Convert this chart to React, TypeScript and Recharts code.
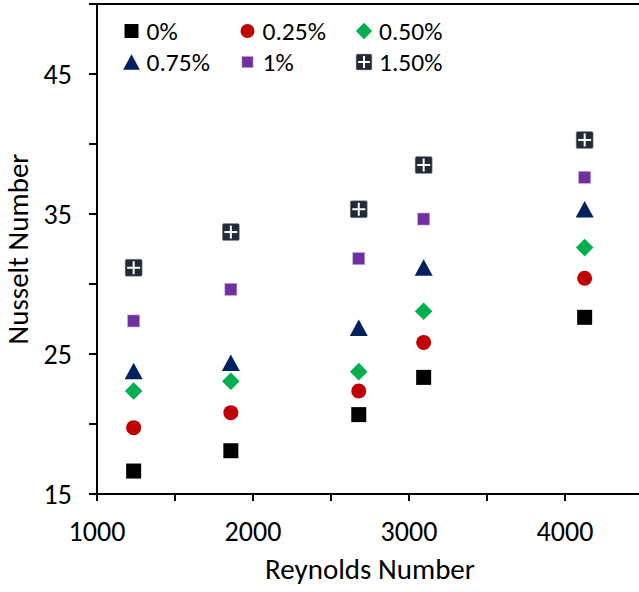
import React from "react";
import { ScatterChart, Scatter, XAxis, YAxis, ReferenceLine } from "recharts";

// Reynolds numbers shared by every series
const reynolds = [1235, 1858, 2678, 3094, 4126];

// Nusselt number per concentration
const nu0 = [16.64, 18.09, 20.67, 23.33, 27.62];
const nu025 = [19.74, 20.81, 22.36, 25.83, 30.41];
const nu050 = [22.36, 23.05, 23.74, 28.05, 32.6];
const nu075 = [23.79, 24.38, 26.88, 31.17, 35.34];
const nu100 = [27.36, 29.62, 31.81, 34.64, 37.62];
const nu150 = [31.16, 33.71, 35.34, 38.5, 40.29];

const seriesNames = ["0%", "0.25%", "0.50%", "0.75%", "1%", "1.50%"];

const xTicks = [1000, 1500, 2000, 2500, 3000, 3500, 4000, 4500];
const xLabels = [1000, 2000, 3000, 4000];
const yTicks = [15, 20, 25, 30, 35, 40, 45, 50];
const yLabels = [15, 25, 35, 45];

const FONT = "Carlito, Calibri, Lato, sans-serif";
const INK = "#000";

type Kind = "square" | "circle" | "diamond" | "triangle" | "smallSquare" | "plusSquare";

const kinds: Kind[] = ["square", "circle", "diamond", "triangle", "smallSquare", "plusSquare"];
const colors = ["#000000", "#c00000", "#00b050", "#002060", "#7030a0", "#222a35"];
const values = [nu0, nu025, nu050, nu075, nu100, nu150];

function Marker({ kind, cx, cy, scale = 1 }: { kind: Kind; cx: number; cy: number; scale?: number }) {
  const color = colors[kinds.indexOf(kind)];
  if (kind === "square") {
    const s = 15 * scale;
    return <rect x={cx - s / 2} y={cy - s / 2} width={s} height={s} fill={color} />;
  }
  if (kind === "circle") {
    return <circle cx={cx} cy={cy} r={7.5 * scale} fill={color} />;
  }
  if (kind === "diamond") {
    const r = 8.8 * scale;
    return (
      <polygon
        points={`${cx},${cy - r} ${cx + r},${cy} ${cx},${cy + r} ${cx - r},${cy}`}
        fill={color}
      />
    );
  }
  if (kind === "triangle") {
    const w = 18 * scale;
    const h = 16.5 * scale;
    return (
      <polygon
        points={`${cx},${cy - h / 2} ${cx + w / 2},${cy + h / 2} ${cx - w / 2},${cy + h / 2}`}
        fill={color}
      />
    );
  }
  if (kind === "smallSquare") {
    const s = 12 * scale;
    return (
      <rect x={cx - s / 2} y={cy - s / 2} width={s} height={s} fill={color} stroke="#b9a3d6" strokeWidth={0.6} />
    );
  }
  const s = 17 * scale;
  return (
    <g>
      <rect x={cx - s / 2} y={cy - s / 2} width={s} height={s} rx={1.5} fill={color} stroke="#8c93a0" strokeWidth={0.5} />
      <line x1={cx} y1={cy - s / 2 + 2} x2={cx} y2={cy + s / 2 - 2} stroke="#fff" strokeWidth={2} />
      <line x1={cx - s / 2 + 2} y1={cy} x2={cx + s / 2 - 2} y2={cy} stroke="#fff" strokeWidth={2} />
    </g>
  );
}

const legendCols = [131.5, 247.5, 364];
const legendRows = [31, 62];

function LegendOverlay() {
  return (
    <svg width={639} height={100} style={{ position: "absolute", left: 0, top: 0, pointerEvents: "none" }}>
      {seriesNames.map((name, i) => {
        const cx = legendCols[i % 3];
        const cy = legendRows[Math.floor(i / 3)];
        return (
          <g key={name}>
            <Marker kind={kinds[i]} cx={cx} cy={cy} scale={0.93} />
            <text x={cx + 15} y={cy} dominantBaseline="central" fontFamily={FONT} fontSize={25.5} fill={INK}>
              {name}
            </text>
          </g>
        );
      })}
    </svg>
  );
}

export default function App() {
  return (
    <div
      style={{
        position: "fixed",
        left: 0,
        top: 0,
        width: 639,
        height: 592,
        overflow: "hidden",
        background: "#fff",
      }}
    >
      <ScatterChart width={660} height={592} margin={{ top: 4, right: 17, left: 0, bottom: 0 }}>
        <XAxis
          type="number"
          dataKey="re"
          domain={[1000, 4500]}
          ticks={xTicks}
          tickFormatter={(v: number) => (xLabels.includes(v) ? String(v) : "")}
          height={98}
          tickSize={7}
          tickMargin={20}
          axisLine={{ stroke: INK, strokeWidth: 2 }}
          tickLine={{ stroke: INK, strokeWidth: 2 }}
          tick={{ fill: INK, fontSize: 28, fontFamily: FONT }}
          label={{
            value: "Reynolds Number",
            position: "insideBottom",
            offset: 13,
            fill: INK,
            fontSize: 29,
            fontFamily: FONT,
          }}
        />
        <YAxis
          type="number"
          dataKey="nu"
          domain={[15, 50]}
          ticks={yTicks}
          tickFormatter={(v: number) => (yLabels.includes(v) ? String(v) : "")}
          width={97}
          tickSize={8}
          tickMargin={17}
          axisLine={{ stroke: INK, strokeWidth: 2 }}
          tickLine={{ stroke: INK, strokeWidth: 2 }}
          tick={{ fill: INK, fontSize: 28, fontFamily: FONT }}
          label={{
            content: ({ viewBox }: any) => {
              const x = 28;
              const y = viewBox.y + viewBox.height / 2;
              return (
                <text
                  x={x}
                  y={y}
                  textAnchor="middle"
                  transform={`rotate(-90, ${x}, ${y})`}
                  fill={INK}
                  fontSize={29}
                  fontFamily={FONT}
                >
                  Nusselt Number
                </text>
              );
            },
          }}
        />
        <ReferenceLine y={50} stroke={INK} strokeWidth={2} />
        {seriesNames.map((name, i) => (
          <Scatter
            key={name}
            name={name}
            data={reynolds.map((re, j) => ({ re, nu: values[i][j] }))}
            fill={colors[i]}
            isAnimationActive={false}
            shape={(p: any) => <Marker kind={kinds[i]} cx={p.cx} cy={p.cy} />}
          />
        ))}
      </ScatterChart>
      <LegendOverlay />
    </div>
  );
}
